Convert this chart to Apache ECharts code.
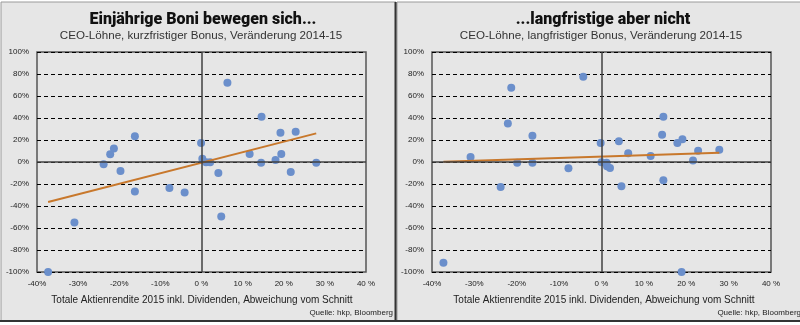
<!DOCTYPE html>
<html><head><meta charset="utf-8">
<script src="https://cdn.jsdelivr.net/npm/echarts@6/dist/echarts.min.js"></script>
<style>html,body{margin:0;padding:0;background:#fff}#c{width:800px;height:325px}</style>
</head><body><div id="c"></div>
<script>
// Left chart: short-term bonus change vs total shareholder return deviation
const leftX = [6.3, 14.6, -16.2, -21.3, -22.2, -23.8, -19.7, -16.2, -7.8, -4.1, -0.1, 0.2, 1.1, 2.1, 4.1, 4.8, 11.7, 14.5, 19.2, 22.9, 19.4, 18.0, 21.7, 27.9, -30.9, -37.3];
const leftY = [72, 41.2, 23.3, 12.2, 7, -2.1, -8.2, -26.9, -23.6, -27.8, 17.2, 3, -0.3, -0.3, -10, -49.5, 7.3, -0.6, 26.6, 27.5, 7.3, 1.8, -9, -0.6, -55, -100];
// Right chart: long-term bonus change
const rightX = [-21.3, -4.3, -30.9, -22.1, -23.8, -19.9, -16.3, -16.3, -7.8, -0.2, 0.0, 1.2, 1.3, 2.0, 4.1, 4.7, 6.3, 11.6, 14.3, 14.6, 14.6, 17.9, 19.1, 21.6, 22.8, 27.8, -37.3, 18.9];
const rightY = [67.5, 77.5, 4.5, 35.1, -22.7, -0.6, 23.9, -0.6, -5.7, 17.2, -0.3, -0.6, -3.9, -5.4, 18.8, -22, 7.9, 5.4, 24.8, 41.2, -16.6, 17.2, 20.6, 1.3, 10.3, 11.2, -91.6, -100];
// Linear trend lines (endpoints as read)
const leftTrendX = [-37.3, 27.9];
const leftTrendY = [-36.3, 26.0];
const rightTrendX = [-37.3, 27.8];
const rightTrendY = [0.3, 8.5];

const titles = ['Einjährige Boni bewegen sich...', '...langfristige aber nicht'];
const subtitles = ['CEO-Löhne, kurzfristiger Bonus, Veränderung 2014-15', 'CEO-Löhne, langfristiger Bonus, Veränderung 2014-15'];
const xAxisTitle = 'Totale Aktienrendite 2015 inkl. Dividenden, Abweichung vom Schnitt';
const sourceText = 'Quelle: hkp, Bloomberg';

const zip = (a, b) => a.map((v, i) => [v, b[i]]);
const FONT = '"Liberation Sans", Arial, sans-serif';
const TITLEFONT = 'Roboto, "Liberation Sans", sans-serif';
const dotColor = '#6b8fcb';
const trendColor = '#c8782c';

const chart = echarts.init(document.getElementById('c'), null, {renderer: 'canvas'});

function xAxisDef(idx) {
  return {
    gridIndex: idx, type: 'value', min: -40, max: 40, interval: 10,
    axisLine: {show: false}, axisTick: {show: false}, splitLine: {show: false},
    axisLabel: {fontSize: 8, color: '#222', fontFamily: FONT, margin: 8,
      formatter: v => v < 0 ? v + '%' : v + ' %'}
  };
}
function yAxisDef(idx) {
  return {
    gridIndex: idx, type: 'value', min: -100, max: 100, interval: 20,
    axisLine: {show: false}, axisTick: {show: false},
    splitLine: {show: true, lineStyle: {color: '#000', type: [4, 3], width: 1}},
    axisLabel: {fontSize: 8, color: '#222', fontFamily: FONT, margin: 8, formatter: '{value}%'}
  };
}
function zeroLines() {
  return {
    silent: true, symbol: 'none', label: {show: false},
    lineStyle: {color: '#404040', type: 'solid', width: 1.5},
    data: [{xAxis: 0}, {yAxis: 0}]
  };
}

const centers = [198, 598];
const option = {
  animation: false,
  backgroundColor: '#ffffff',
  graphic: [
    {type: 'rect', shape: {x: 1, y: 2, width: 395, height: 319}, style: {fill: '#e6e6e6', stroke: '#9a9a9a', lineWidth: 1}, z: -10},
    {type: 'rect', shape: {x: 397, y: 2, width: 410, height: 319}, style: {fill: '#e6e6e6', stroke: '#9a9a9a', lineWidth: 1}, z: -10},
    {type: 'line', shape: {x1: 395.5, y1: 2, x2: 395.5, y2: 321}, style: {stroke: '#333', lineWidth: 2}, z: -5},
    {type: 'line', shape: {x1: 0, y1: 321, x2: 800, y2: 321}, style: {stroke: '#333', lineWidth: 2}, z: -5}
  ],
  title: [
    {text: titles[0], left: centers[0], top: 7, textAlign: 'center',
      textStyle: {fontFamily: TITLEFONT, fontWeight: 900, fontSize: 16, color: '#111'}},
    {text: subtitles[0], left: centers[0] - 2, top: 25, textAlign: 'center',
      textStyle: {fontFamily: FONT, fontWeight: 'normal', fontSize: 11.6, color: '#333'}},
    {text: xAxisTitle, left: centers[0] - 1, top: 290, textAlign: 'center',
      textStyle: {fontFamily: FONT, fontWeight: 'normal', fontSize: 10, color: '#222'}},
    {text: sourceText, right: 402, top: 304,
      textStyle: {fontFamily: FONT, fontWeight: 'normal', fontSize: 8, color: '#222'}},
    {text: titles[1], left: centers[1], top: 7, textAlign: 'center',
      textStyle: {fontFamily: TITLEFONT, fontWeight: 900, fontSize: 16, color: '#111'}},
    {text: subtitles[1], left: centers[1] - 2, top: 25, textAlign: 'center',
      textStyle: {fontFamily: FONT, fontWeight: 'normal', fontSize: 11.6, color: '#333'}},
    {text: xAxisTitle, left: centers[1] + 1, top: 290, textAlign: 'center',
      textStyle: {fontFamily: FONT, fontWeight: 'normal', fontSize: 10, color: '#222'}},
    {text: sourceText, right: -6, top: 304,
      textStyle: {fontFamily: FONT, fontWeight: 'normal', fontSize: 8, color: '#222'}}
  ],
  grid: [
    {left: 37, top: 52, width: 329, height: 220, show: true, backgroundColor: 'transparent', borderColor: '#555', borderWidth: 1.5},
    {left: 432, top: 52, width: 339, height: 220, show: true, backgroundColor: 'transparent', borderColor: '#555', borderWidth: 1.5}
  ],
  xAxis: [xAxisDef(0), xAxisDef(1)],
  yAxis: [yAxisDef(0), yAxisDef(1)],
  series: [
    {type: 'scatter', xAxisIndex: 0, yAxisIndex: 0, data: zip(leftX, leftY), symbolSize: 8,
      itemStyle: {color: dotColor, opacity: 1}, markLine: zeroLines(), z: 3},
    {type: 'line', xAxisIndex: 0, yAxisIndex: 0, data: zip(leftTrendX, leftTrendY), showSymbol: false,
      lineStyle: {color: trendColor, width: 2}, z: 4},
    {type: 'scatter', xAxisIndex: 1, yAxisIndex: 1, data: zip(rightX, rightY), symbolSize: 8,
      itemStyle: {color: dotColor, opacity: 1}, markLine: zeroLines(), z: 3},
    {type: 'line', xAxisIndex: 1, yAxisIndex: 1, data: zip(rightTrendX, rightTrendY), showSymbol: false,
      lineStyle: {color: trendColor, width: 2}, z: 4}
  ]
};
chart.setOption(option);
</script>
</body></html>
